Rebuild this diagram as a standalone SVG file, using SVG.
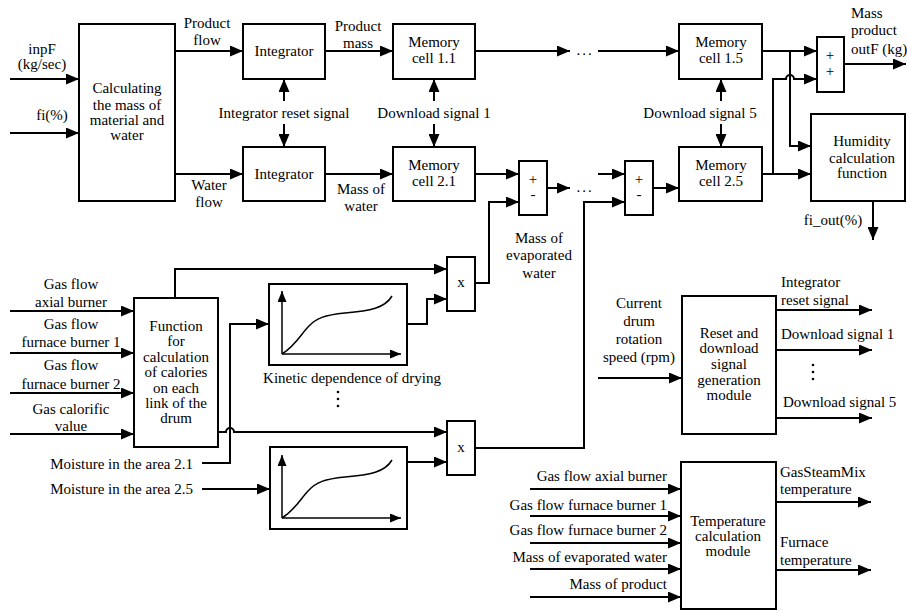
<svg xmlns="http://www.w3.org/2000/svg" xmlns:xlink="http://www.w3.org/1999/xlink" width="907" height="611" viewBox="0 0 907 611">
<style>
.b{fill:#fff;stroke:#000;stroke-width:2}
.l{fill:none;stroke:#000;stroke-width:2}
.a{marker-end:url(#ah)}
.g{fill:none;stroke:#000;stroke-width:1.5}
text{font-family:"Liberation Serif","Times New Roman",serif;font-size:15px;fill:#000}
.m{text-anchor:middle}
.e{text-anchor:end}
</style>
<defs>
<marker id="ah" markerUnits="userSpaceOnUse" markerWidth="13" markerHeight="11" refX="13" refY="5.5" orient="auto-start-reverse"><path d="M0,0 L13,5.5 L0,11 z" fill="#000"/></marker>
<marker id="sa" markerUnits="userSpaceOnUse" markerWidth="11" markerHeight="9" refX="11" refY="4.5" orient="auto"><path d="M0,0 L11,4.5 L0,9 z" fill="#000"/></marker>
<g id="graph">
<path class="g" d="M12,71 V8" marker-end="url(#sa)"/>
<path class="g" d="M12,71 H131" marker-end="url(#sa)"/>
<path class="g" d="M12,71 C25,63 32,50 38,44 C46,35 55,32 75,30 C100,28 115,25 122,13"/>
</g>
</defs>
<rect width="907" height="611" fill="#fff"/>

<g id="connectors">
<path class="l a" d="M10,79 H79"/>
<path class="l a" d="M10,133 H79"/>
<path class="l a" d="M175,51 H243"/>
<path class="l a" d="M175,174 H243"/>
<path class="l a" d="M284,101 V79"/>
<path class="l a" d="M284,124 V147"/>
<path class="l a" d="M325,51 H393"/>
<path class="l a" d="M325,174 H393"/>
<path class="l a" d="M434,101 V79"/>
<path class="l a" d="M434,124 V147"/>
<path class="l a" d="M475,51 H570"/>
<path class="l a" d="M598,51 H679"/>
<path class="l a" d="M475,174 H519"/>
<path class="l a" d="M547,188 H570"/>
<path class="l a" d="M598,174 H625"/>
<path class="l a" d="M653,188 H679"/>
<path class="l a" d="M721,101 V79"/>
<path class="l a" d="M721,124 V147"/>
<path class="l a" d="M762,51 H817"/>
<path class="l a" d="M790,51 V146 H811"/>
<path class="l a" d="M762,174 H811"/>
<path class="l a" d="M773,174 V79 H786 A4,4 0 0 1 794,79 H817"/>
<path class="l a" d="M844,64 H906"/>
<path class="l a" d="M873,201 V240"/>
<path class="l a" d="M10,311 H134"/>
<path class="l a" d="M10,353 H134"/>
<path class="l a" d="M10,393 H134"/>
<path class="l a" d="M10,434 H134"/>
<path class="l a" d="M175,298 V269 H447"/>
<path class="l a" d="M202,463 H230 V324 H269"/>
<path class="l a" d="M218,432 H226 A4,4 0 0 1 234,432 H447"/>
<path class="l a" d="M202,489 H270"/>
<path class="l a" d="M407,324 H427 V299 H447"/>
<path class="l a" d="M407,462 H447"/>
<path class="l a" d="M475,283 H489 V202 H519"/>
<path class="l a" d="M475,448 H584 V202 H625"/>
<path class="l a" d="M598,378 H682"/>
<path class="l a" d="M776,310 H872"/>
<path class="l a" d="M776,350 H872"/>
<path class="l a" d="M776,418 H872"/>
<path class="l a" d="M530,489 H681"/>
<path class="l a" d="M530,516 H681"/>
<path class="l a" d="M530,543 H681"/>
<path class="l a" d="M530,569 H681"/>
<path class="l a" d="M530,597 H681"/>
<path class="l a" d="M776,502 H871"/>
<path class="l a" d="M776,570 H871"/>
</g>

<g id="labels">
<text class="m" x="42" y="54">inpF</text>
<text class="m" x="42" y="69">(kg/sec)</text>
<text class="m" x="52" y="120">fi(%)</text>
<text class="m" x="207" y="28">Product</text>
<text class="m" x="207" y="45">flow</text>
<text class="m" x="209" y="190">Water</text>
<text class="m" x="209" y="207">flow</text>
<text class="m" x="284" y="118">Integrator reset signal</text>
<text class="m" x="358" y="31">Product</text>
<text class="m" x="358" y="48">mass</text>
<text class="m" x="361" y="194">Mass of</text>
<text class="m" x="361" y="211">water</text>
<text class="m" x="434" y="118">Download signal 1</text>
<text class="m" x="700" y="118">Download signal 5</text>
<text class="m" x="585" y="55" letter-spacing="2">...</text>
<text class="m" x="585" y="192" letter-spacing="2">...</text>
<text class="m" x="539" y="243">Mass of</text>
<text class="m" x="539" y="260">evaporated</text>
<text class="m" x="539" y="278">water</text>
<text x="851" y="18">Mass</text>
<text x="851" y="35">product</text>
<text x="851" y="54">outF (kg)</text>
<text class="m" x="833" y="225">fi_out(%)</text>
<text class="m" x="71" y="289">Gas flow</text>
<text class="m" x="71" y="307">axial burner</text>
<text class="m" x="71" y="329">Gas flow</text>
<text class="m" x="71" y="347">furnace burner 1</text>
<text class="m" x="71" y="370">Gas flow</text>
<text class="m" x="71" y="389">furnace burner 2</text>
<text class="m" x="71" y="414">Gas calorific</text>
<text class="m" x="71" y="431">value</text>
<text class="m" x="352" y="383">Kinetic dependence of drying</text>
<circle cx="338" cy="392" r="1.3"/>
<circle cx="338" cy="399" r="1.3"/>
<circle cx="338" cy="406" r="1.3"/>
<text class="e" x="193" y="469">Moisture in the area 2.1</text>
<text class="e" x="193" y="494">Moisture in the area 2.5</text>
<text class="m" x="639" y="308">Current</text>
<text class="m" x="639" y="326">drum</text>
<text class="m" x="639" y="344">rotation</text>
<text class="m" x="639" y="362">speed (rpm)</text>
<text x="781" y="287">Integrator</text>
<text x="781" y="305">reset signal</text>
<text x="781" y="339">Download signal 1</text>
<circle cx="813" cy="365" r="1.3"/>
<circle cx="813" cy="372" r="1.3"/>
<circle cx="813" cy="379" r="1.3"/>
<text x="783" y="407">Download signal 5</text>
<text class="e" x="667" y="481">Gas flow axial burner</text>
<text class="e" x="667" y="510">Gas flow furnace burner 1</text>
<text class="e" x="667" y="535">Gas flow furnace burner 2</text>
<text class="e" x="667" y="562">Mass of evaporated water</text>
<text class="e" x="667" y="589">Mass of product</text>
<text x="780" y="477">GasSteamMix</text>
<text x="780" y="494">temperature</text>
<text x="780" y="547">Furnace</text>
<text x="780" y="565">temperature</text>
</g>

<g id="calc"><rect class="b" x="79" y="24" width="96" height="177"/>
<text class="m" x="127" y="93">Calculating</text><text class="m" x="127" y="110">the mass of</text><text class="m" x="127" y="125">material and</text><text class="m" x="127" y="140">water</text></g>
<g id="integ1"><rect class="b" x="243" y="24" width="82" height="55"/><text class="m" x="284" y="56">Integrator</text></g>
<g id="integ2"><rect class="b" x="243" y="147" width="82" height="54"/><text class="m" x="284" y="179">Integrator</text></g>
<g id="mem11"><rect class="b" x="393" y="24" width="82" height="55"/><text class="m" x="434" y="47">Memory</text><text class="m" x="434" y="63">cell 1.1</text></g>
<g id="mem21"><rect class="b" x="393" y="147" width="82" height="54"/><text class="m" x="434" y="170">Memory</text><text class="m" x="434" y="186">cell 2.1</text></g>
<g id="mem15"><rect class="b" x="679" y="24" width="83" height="55"/><text class="m" x="721" y="47">Memory</text><text class="m" x="721" y="63">cell 1.5</text></g>
<g id="mem25"><rect class="b" x="679" y="147" width="83" height="54"/><text class="m" x="721" y="170">Memory</text><text class="m" x="721" y="186">cell 2.5</text></g>
<g id="sum1"><rect class="b" x="519" y="161" width="28" height="54"/><text class="m" x="533" y="184">+</text><text class="m" x="533" y="199">-</text></g>
<g id="sum2"><rect class="b" x="625" y="161" width="28" height="54"/><text class="m" x="639" y="184">+</text><text class="m" x="639" y="199">-</text></g>
<g id="sum3"><rect class="b" x="817" y="37" width="27" height="55"/><text class="m" x="830" y="60">+</text><text class="m" x="830" y="76">+</text></g>
<g id="humidity"><rect class="b" x="811" y="114" width="94" height="87"/><text class="m" x="862" y="146">Humidity</text><text class="m" x="862" y="163">calculation</text><text class="m" x="862" y="178">function</text></g>
<g id="calories"><rect class="b" x="134" y="298" width="84" height="149"/>
<text class="m" x="176" y="331">Function</text><text class="m" x="176" y="346">for</text><text class="m" x="176" y="362">calculation</text><text class="m" x="176" y="377">of calories</text><text class="m" x="176" y="393">on each</text><text class="m" x="176" y="408">link of the</text><text class="m" x="176" y="423">drum</text></g>
<g id="mul1"><rect class="b" x="447" y="257" width="28" height="54"/><text class="m" x="461" y="287">x</text></g>
<g id="mul2"><rect class="b" x="447" y="421" width="28" height="54"/><text class="m" x="461" y="452">x</text></g>
<g id="kinetic1"><rect class="b" x="269" y="284" width="138" height="81"/><use xlink:href="#graph" x="270" y="283"/></g>
<g id="kinetic2"><rect class="b" x="270" y="447" width="137" height="82"/><use xlink:href="#graph" x="270" y="447"/></g>
<g id="reset"><rect class="b" x="682" y="296" width="94" height="138"/>
<text class="m" x="729" y="338">Reset and</text><text class="m" x="729" y="353">download</text><text class="m" x="729" y="369">signal</text><text class="m" x="729" y="385">generation</text><text class="m" x="729" y="400">module</text></g>
<g id="temperature"><rect class="b" x="681" y="462" width="95" height="147"/>
<text class="m" x="728" y="526">Temperature</text><text class="m" x="728" y="541">calculation</text><text class="m" x="728" y="556">module</text></g>
</svg>
